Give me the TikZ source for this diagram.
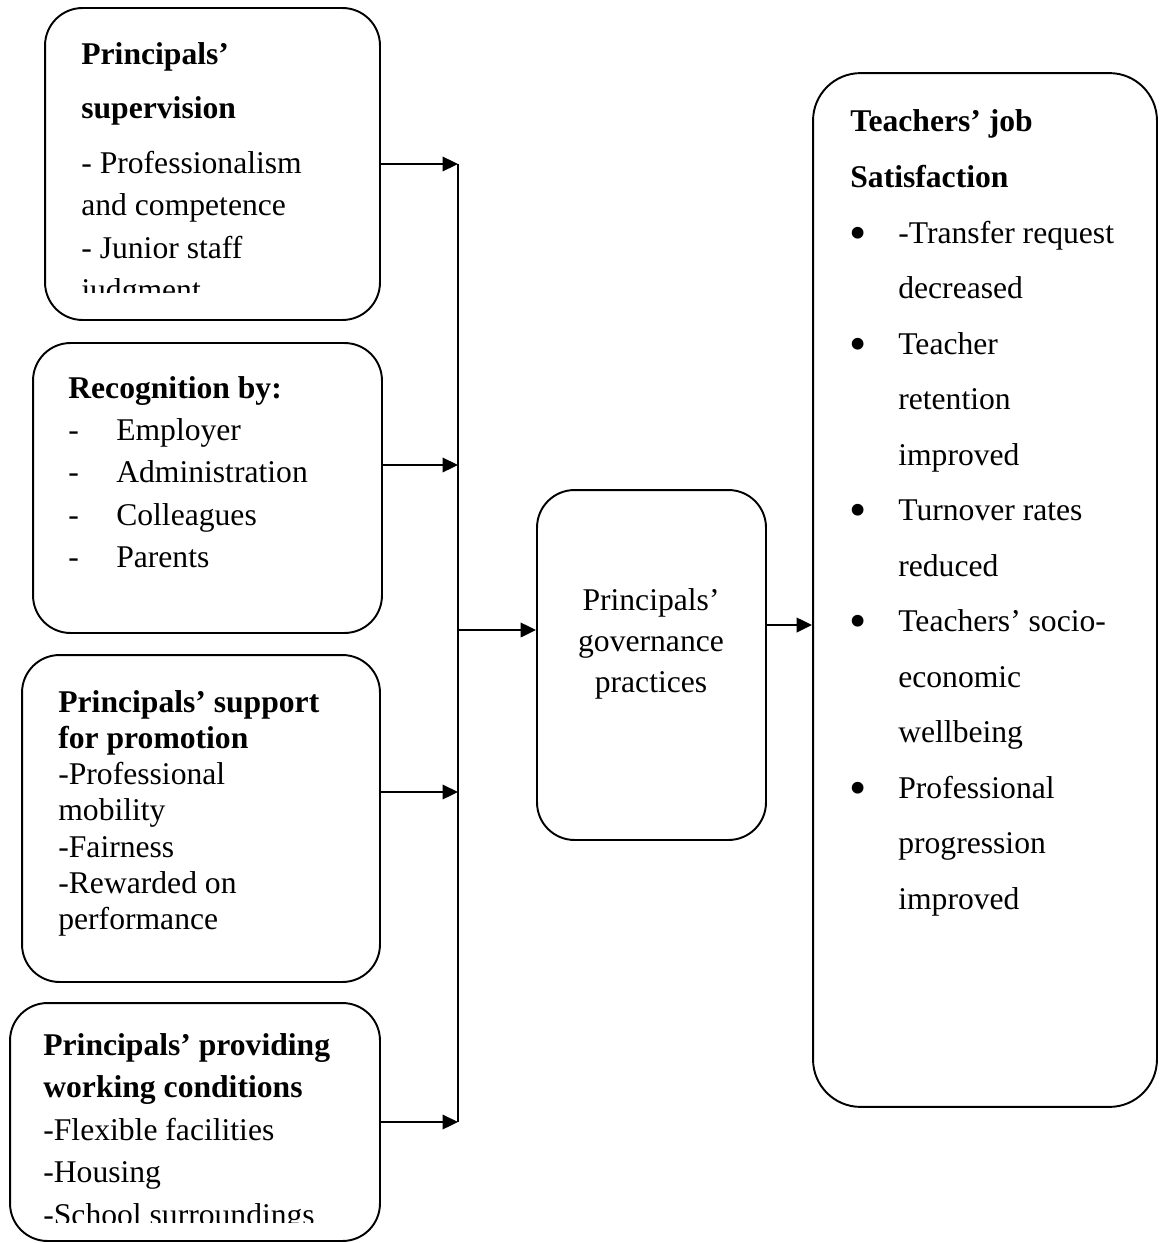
\documentclass[tikz,border=0pt]{standalone}
\usepackage{fontspec}
\setmainfont{Liberation Serif}
\usetikzlibrary{arrows.meta}

\newcommand{\dashitem}{\makebox[27.3pt][l]{-}}
\newcommand{\bulitem}{\makebox[27.3pt][l]{\hspace{-0.4pt}%
  \raisebox{-3.6pt}{\fontsize{28}{28}\selectfont\textbullet}}}
\newcommand{\inditem}{\makebox[27.3pt][l]{}}

\begin{document}
\begin{tikzpicture}[x=0.02cm, y=-0.02cm]
\tikzstyle{box} = [rectangle, rounded corners=0.75cm, draw=black,
  line width=1.1pt, inner sep=0pt]
\tikzstyle{txt} = [anchor=base west, inner sep=0pt]
\tikzstyle{arr} = [-{Triangle[length=0.31cm, width=0.29cm]}, line width=1.3pt]

\useasboundingbox (0,0) rectangle (1160,1243);

% left column
\node[box, minimum width=6.7cm, minimum height=6.24cm] (sup) at (212.5,164) {};
\begin{scope}
\clip (45,8) rectangle (380,293);
\node[txt] (supTxt) at (81,65) {\parbox[t]{7cm}{\fontsize{18}{24.2}\selectfont
  \raggedright
  \textbf{Principals'}\\[6pt]
  \textbf{supervision}\\[7.1pt]
  - Professionalism\\
  and competence\\
  - Junior staff\\
  judgment}};
\end{scope}

\node[box, minimum width=6.98cm, minimum height=5.8cm] (rec) at (207.5,488) {};
\node[txt] (recTxt) at (68,398) {\parbox[t]{7cm}{\fontsize{18}{24.1}\selectfont
  \raggedright
  \textbf{Recognition by:}\\
  \dashitem Employer\\
  \dashitem Administration\\
  \dashitem Colleagues\\
  \dashitem Parents}};

\node[box, minimum width=7.16cm, minimum height=6.54cm] (prom) at (201,818.5) {};
\node[txt] (promTxt) at (58,712) {\parbox[t]{7cm}{\fontsize{18}{20.65}\selectfont
  \raggedright
  \textbf{Principals' support}\\
  \textbf{for promotion}\\
  -Professional\\
  mobility\\
  -Fairness\\
  -Rewarded on\\
  performance}};

\node[box, minimum width=7.4cm, minimum height=4.76cm] (cond) at (195,1122) {};
\begin{scope}
\clip (10,1003) rectangle (380,1222);
\node[txt] (condTxt) at (43,1055) {\parbox[t]{7cm}{\fontsize{18}{24.2}\selectfont
  \raggedright
  \textbf{Principals' providing}\\
  \textbf{working conditions}\\
  -Flexible facilities\\
  -Housing\\
  -School surroundings}};
\end{scope}

% middle and right
\node[box, minimum width=4.58cm, minimum height=7cm] (gov) at (651.5,665) {};
\node[anchor=base, inner sep=0pt] (govTxt) at (651,610)
  {\parbox[t]{4cm}{\fontsize{18}{23.6}\selectfont\centering
  Principals'\\
  governance\\
  practices}};

\node[box, rounded corners=0.95cm, minimum width=6.88cm, minimum height=20.68cm]
  (sat) at (985,590) {};
\node[txt] (satTxt) at (850,132) {\parbox[t]{7cm}{\fontsize{18}{31.6}\selectfont
  \raggedright
  \textbf{Teachers' job}\\
  \textbf{Satisfaction}\\
  \bulitem -Transfer request\\
  \inditem decreased\\
  \bulitem Teacher\\
  \inditem retention\\
  \inditem improved\\
  \bulitem Turnover rates\\
  \inditem reduced\\
  \bulitem Teachers' socio-\\
  \inditem economic\\
  \inditem wellbeing\\
  \bulitem Professional\\
  \inditem progression\\
  \inditem improved}};

% connectors
\coordinate (busTop) at (458,164);
\coordinate (busBot) at (458,1122);
\draw[line width=1pt] (busTop) -- (busBot);

\draw[arr] (sup.east) -- (sup.east -| busTop);
\draw[arr] ([yshift=0.46cm]rec.east) -- ([yshift=0.46cm]rec.east -| busTop);
\draw[arr] ([yshift=0.53cm]prom.east) -- ([yshift=0.53cm]prom.east -| busTop);
\draw[arr] (cond.east) -- (cond.east -| busTop);
\draw[arr] ([yshift=0.7cm]gov.west -| busTop) -- ([yshift=0.7cm]gov.west);
\draw[arr] ([yshift=0.8cm]gov.east) -- ([yshift=0.8cm]gov.east -| sat.west);
\end{tikzpicture}
\end{document}
